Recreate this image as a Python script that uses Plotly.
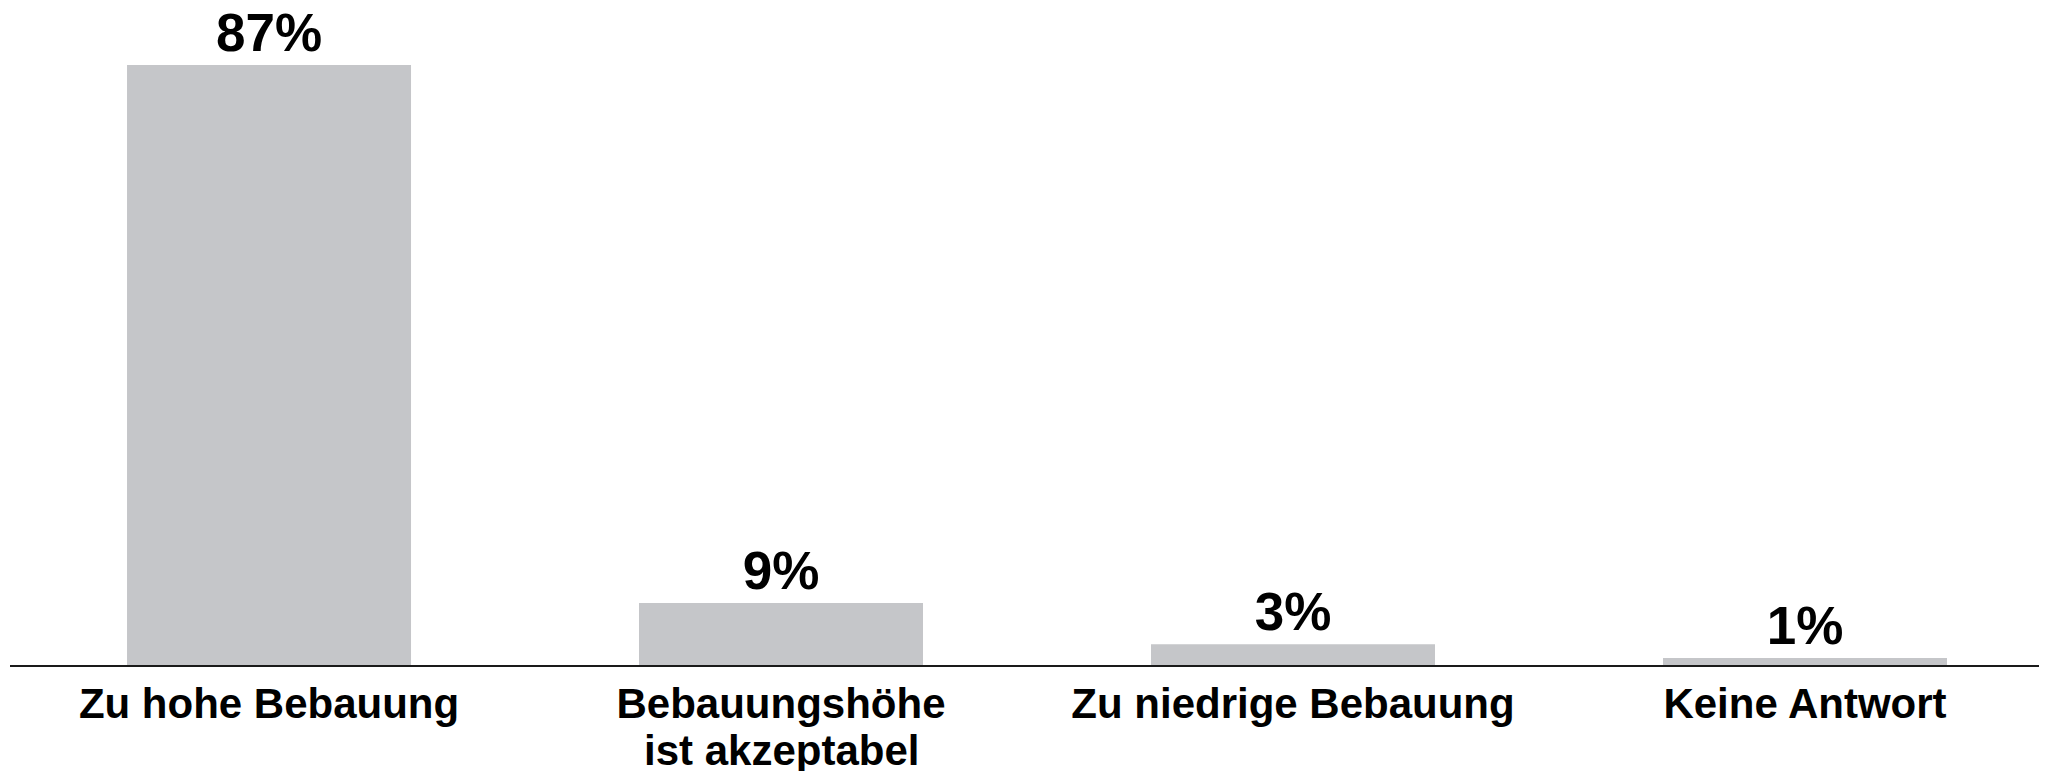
import plotly.graph_objects as go

categories = ["Zu hohe Bebauung", "Bebauungshöhe<br>ist akzeptabel", "Zu niedrige Bebauung", "Keine Antwort"]
values = [87, 9, 3, 1]
value_labels = ["87%", "9%", "3%", "1%"]

BAR_COLOR = "#c5c6c9"
FONT = "Liberation Sans, Arial, Helvetica, sans-serif"

tick_text = [c.split("<br>")[0] for c in categories]

fig = go.Figure(
    go.Bar(
        x=categories,
        y=values,
        text=value_labels,
        textposition="outside",
        textfont=dict(family=FONT, size=53, color="#000000", weight="bold"),
        marker=dict(color=BAR_COLOR, line=dict(width=0)),
        cliponaxis=False,
        constraintext="none",
    )
)

annotations = []
for c in categories:
    parts = c.split("<br>")
    for k, p in enumerate(parts[1:], start=1):
        annotations.append(dict(
            x=c, xref="x", y=0, yref="y", yanchor="middle", xanchor="center",
            yshift=-44 - 41 * k, text=p, showarrow=False,
            font=dict(family=FONT, size=42, color="#000000", weight="bold"),
        ))

fig.update_layout(
    width=2047, height=771,
    margin=dict(l=2, r=0, t=17, b=114),
    paper_bgcolor="white", plot_bgcolor="white",
    bargap=0.4453,
    showlegend=False,
    annotations=annotations,
    xaxis=dict(
        range=[-0.5059, 3.4883],
        tickmode="array", tickvals=categories, ticktext=tick_text,
        showline=True, linecolor="#1a1a1a", linewidth=2,
        ticks="", showgrid=False, zeroline=False,
        tickfont=dict(family=FONT, size=42, color="#000000", weight="bold"),
        ticklabelstandoff=1,
    ),
    yaxis=dict(
        range=[0, 92.8], visible=False, showgrid=False, zeroline=False,
    ),
)

fig.write_html("out.html")
